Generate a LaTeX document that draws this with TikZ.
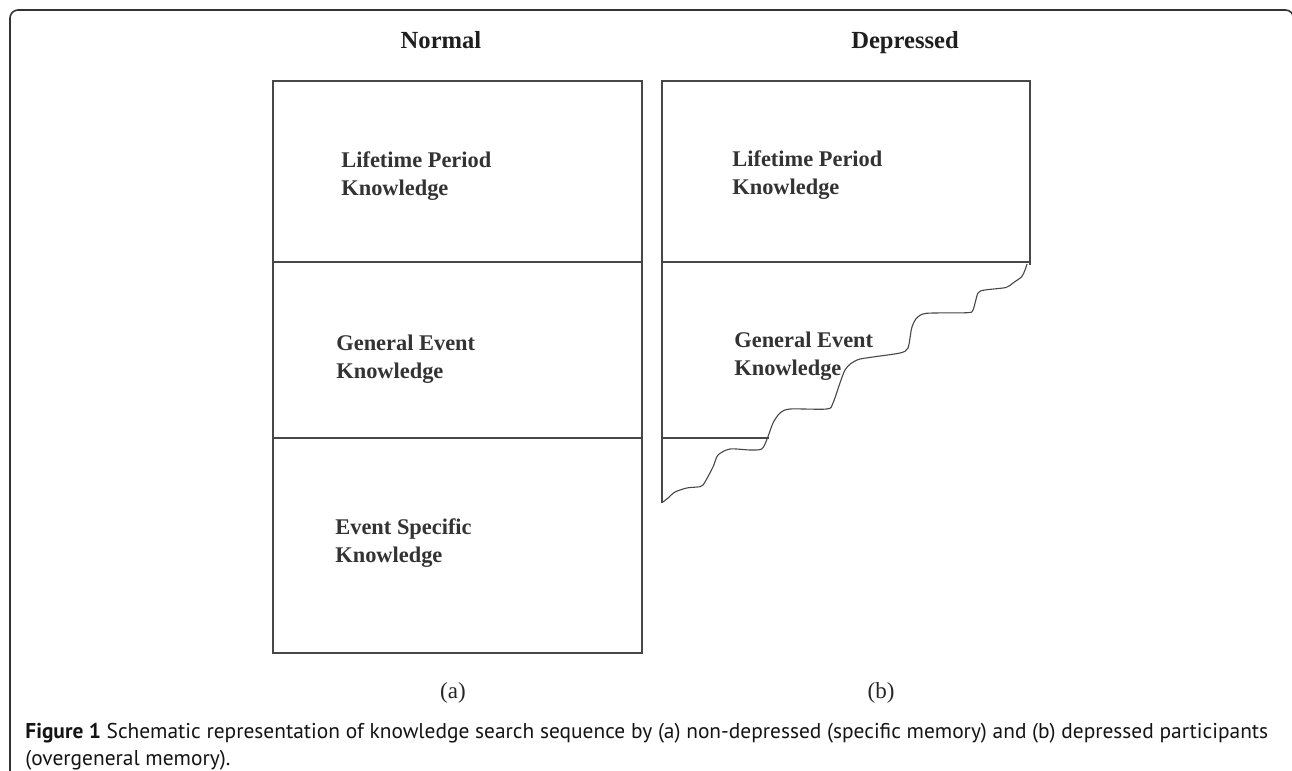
\documentclass[tikz,border=0pt]{standalone}
\usepackage{fontspec}
\setmainfont{Liberation Serif}
\newfontfamily\capfont{PT Sans}
\usepackage{tikz}

\begin{document}
\begin{tikzpicture}[x=0.5pt,y=-0.5pt,
  box text/.style={anchor=base west,align=left,inner sep=0pt,
    font=\fontsize{11.2}{14}\selectfont\bfseries,text=black!80},
  head node/.style={anchor=base,inner sep=0pt,
    font=\fontsize{12.3}{14}\selectfont\bfseries,text=black!88},
  sub node/.style={anchor=base,inner sep=0pt,
    font=\fontsize{11.5}{14}\selectfont,text=black!85},
  box line/.style={line width=0.65pt,draw=black!72}]

  \clip (0,0) rectangle (1292,771);
  \fill[white] (0,0) rectangle (1292,771);
  % outer frame
  \draw[line width=0.8pt,draw=black!80,rounded corners=4pt]
    (10,800) -- (10,10) -- (1293.5,10) -- (1293.5,800);

  % headings
  \node[head node] (normal) at (441,48) {Normal};
  \node[head node] (depressed) at (905,48) {Depressed};

  % (a) normal
  \draw[box line] (273,81) rectangle (642,653);
  \draw[box line] (273,262) -- (642,262);
  \draw[box line] (273,438) -- (642,438);
  % base = last line
  \node[box text] (lifeA) at (341,195) {Lifetime Period\\Knowledge};
  \node[box text] (genA) at (336,378) {General Event\\Knowledge};
  \node[box text] (specA) at (335,562) {Event Specific\\Knowledge};

  % (b) depressed
  \draw[box line] (662,503) -- (662,81) -- (1030,81) -- (1030,265);
  \draw[box line] (662,262) -- (1030,262);
  \draw[box line] (662,438) -- (769,438);
  \draw[box line,line width=0.55pt] plot[smooth,tension=0.45] coordinates {
    (1027,264) (1025,270) (1021.7,276.7) (1013,283) (1006,287.5) (985,290)
    (978,293) (973,310) (967,312.7) (926.7,313.3) (916.7,318) (911.7,328)
    (908,348) (900,353) (873,357) (857,360) (845,370) (833,403)
    (826.7,409) (790,409) (780,413) (773,423) (766.7,440) (761.7,449)
    (750,450) (730,449) (718,455) (713,467) (703,485) (696.7,487)
    (686.7,488) (675,492) (668,498) (663,502)};
  \node[box text] (lifeB) at (732,194) {Lifetime Period\\Knowledge};
  \node[box text] (genB) at (734,375) {General Event\\Knowledge};

  % sub labels
  \node[sub node] (subA) at (453,698) {(a)};
  \node[sub node] (subB) at (881,698) {(b)};

  % caption
  \node[anchor=base west,align=left,inner sep=0pt,
    font=\capfont\fontsize{10.7}{13.5}\selectfont,text=black!92] (caption) at (25,765)
    {{\bfseries Figure 1} Schematic representation of knowledge search sequence by (a) non-depressed (specific memory) and (b) depressed participants\\(overgeneral memory).};
\end{tikzpicture}
\end{document}
